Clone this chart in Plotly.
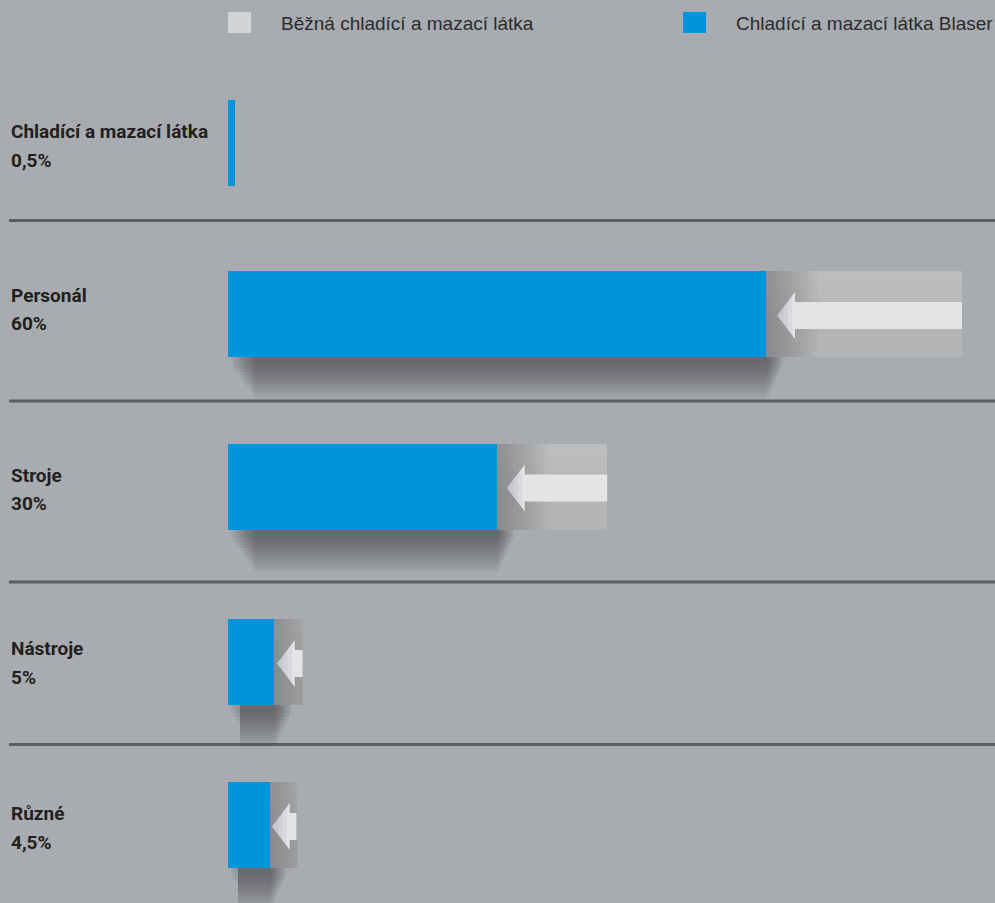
import plotly.graph_objects as go

# ---------------- data ----------------
CATEGORIES = ["Chladící a mazací látka", "Personál", "Stroje", "Nástroje", "Různé"]
SHARE_LABELS = ["0,5%", "60%", "30%", "5%", "4,5%"]
# bar lengths (percent scale)
CONVENTIONAL = [0.5, 60, 31, 6.1, 5.6]   # Běžná chladící a mazací látka
BLASER = [0.55, 44, 22, 3.8, 3.4]        # Chladící a mazací látka Blaser
LEGEND_NAMES = ["Běžná chladící a mazací látka", "Chladící a mazací látka Blaser"]

# ---------------- layout constants ----------------
W, H = 995, 903
PLOT_LEFT = 228
PX_PER_UNIT = (962 - 228) / 60.0
X_MAX = (W - PLOT_LEFT) / PX_PER_UNIT
ROW_CENTER = [143, 314, 486.5, 662, 825]
LABEL_TOP_LINE = [130.5, 294, 474, 647.5, 812.5]
LINE_STEP = 28.5
SEPARATORS = [220.5, 401, 582, 744.5]
BAR_H = 86

BG = "#a8abb0"
BLUE = "#0095da"
GRAY = "#b4b5b7"
TEXT = "#231f20"
LABEL_FONT = "Roboto, Liberation Sans, sans-serif"
LEGEND_FONT = "Liberation Sans, Arial, sans-serif"

fig = go.Figure()

# soft drop shadows beneath the blue bars
DEPTHS = [8, 12, 15, 18, 21, 24, 27, 30, 33, 36, 39, 42]
for j, d in enumerate(DEPTHS):
    top = -10
    bottom = d
    rows_y, xs, bases = [], [], []
    for b, r in zip(BLASER, ROW_CENTER):
        if b < 1:
            continue
        left = min(0.25 + 0.18 * j, b * 0.25)
        right = b + 1.4 - 0.12 * j
        rows_y.append(r + BAR_H / 2 + (top + bottom) / 2)
        bases.append(left)
        xs.append(right - left)
    fig.add_trace(go.Bar(
        orientation="h", x=xs, base=bases, y=rows_y, width=bottom - top,
        marker=dict(color="rgba(40,40,46,0.05)", line=dict(width=0)),
        hoverinfo="skip", showlegend=False,
    ))

# conventional (gray) bars
fig.add_trace(go.Bar(
    orientation="h", x=CONVENTIONAL, y=ROW_CENTER, width=BAR_H,
    marker=dict(color=GRAY, line=dict(width=0)),
    name=LEGEND_NAMES[0], showlegend=False,
))
# gray bar vertical shading: lighter towards the top
for k in range(8):
    depth = 10 + k * 6
    fig.add_trace(go.Bar(
        orientation="h", x=CONVENTIONAL,
        y=[r - BAR_H / 2 + depth / 2 for r in ROW_CENTER], width=depth,
        marker=dict(color="rgba(255,255,255,0.022)", line=dict(width=0)),
        hoverinfo="skip", showlegend=False,
    ))
# shadow of the blue bar falling on the gray bar (horizontal gradient)
for k in range(12):
    reach = 0.35 * (k + 1)
    fig.add_trace(go.Bar(
        orientation="h",
        x=[min(reach, max(c - b, 0)) for c, b in zip(CONVENTIONAL, BLASER)],
        base=BLASER, y=ROW_CENTER, width=BAR_H,
        marker=dict(color="rgba(60,60,66,0.03)", line=dict(width=0)),
        hoverinfo="skip", showlegend=False,
    ))

# arrows (from conventional length back to Blaser length)
HEAD_LEN = 1.45
for c, b, r in zip(CONVENTIONAL, BLASER, ROW_CENTER):
    gap = c - b
    if gap < 1.5:
        continue
    tip = b + min(0.9, 0.09 * gap)
    hb = tip + HEAD_LEN
    yc = r + 1.5
    xs = [tip, hb, hb, c, c, hb, hb, tip]
    ys = [yc, yc - 23.5, yc - 13.5, yc - 13.5, yc + 13.5, yc + 13.5, yc + 23.5, yc]
    fig.add_trace(go.Scatter(
        x=xs, y=ys, mode="lines", fill="toself", fillcolor="#e3e4e6",
        line=dict(width=0, color="rgba(0,0,0,0)"), hoverinfo="skip", showlegend=False,
    ))
    # soft shading on the arrow head near its tip
    for f in (0.35, 0.6, 0.85):
        fig.add_trace(go.Scatter(
            x=[tip, tip + HEAD_LEN * f, tip + HEAD_LEN * f, tip],
            y=[yc, yc - 23.5 * f, yc + 23.5 * f, yc],
            mode="lines", fill="toself", fillcolor="rgba(150,150,156,0.12)",
            line=dict(width=0, color="rgba(0,0,0,0)"), hoverinfo="skip", showlegend=False,
        ))

# Blaser (blue) bars
fig.add_trace(go.Bar(
    orientation="h", x=BLASER, y=ROW_CENTER, width=BAR_H,
    marker=dict(color=BLUE, line=dict(width=0)),
    name=LEGEND_NAMES[1], showlegend=False,
))

shapes = []
for s in SEPARATORS:
    shapes.append(dict(type="line", xref="paper", yref="y", x0=9 / W, x1=1, y0=s, y1=s,
                       line=dict(color="#5b5e62", width=3), layer="below"))

# custom legend
legend_items = [(228, 279, "#d3d4d6", LEGEND_NAMES[0]), (683, 734, BLUE, LEGEND_NAMES[1])]
annotations = []
for sx, tx, col, name in legend_items:
    shapes.append(dict(type="rect", xref="paper", yref="y", x0=sx / W, x1=(sx + 23) / W,
                       y0=12, y1=33, fillcolor=col, line=dict(width=0)))
    annotations.append(dict(xref="paper", yref="y", x=tx / W, y=23, xanchor="left",
                            yanchor="middle", text=name, showarrow=False,
                            font=dict(family=LEGEND_FONT, size=19, color="#2b2b2d")))

for cat, lab, ly in zip(CATEGORIES, SHARE_LABELS, LABEL_TOP_LINE):
    for text, yy in ((cat, ly), (lab, ly + LINE_STEP)):
        annotations.append(dict(xref="paper", yref="y", x=9 / W, y=yy + 1, xanchor="left",
                                yanchor="middle", align="left",
                                text=f"<b>{text}</b>", showarrow=False,
                                font=dict(family=LABEL_FONT, size=19, color=TEXT)))

fig.update_layout(
    width=W, height=H,
    margin=dict(l=0, r=0, t=0, b=0, pad=0),
    paper_bgcolor=BG, plot_bgcolor="rgba(0,0,0,0)",
    barmode="overlay", bargap=0,
    xaxis=dict(domain=[PLOT_LEFT / W, 1], range=[0, X_MAX], visible=False, fixedrange=True),
    yaxis=dict(range=[H, 0], visible=False, fixedrange=True),
    shapes=shapes, annotations=annotations,
    showlegend=False,
)

fig.write_html(
    "out.html",
    config={"displayModeBar": False},
    post_script="document.body.style.margin='0';document.body.style.overflow='hidden';",
)
